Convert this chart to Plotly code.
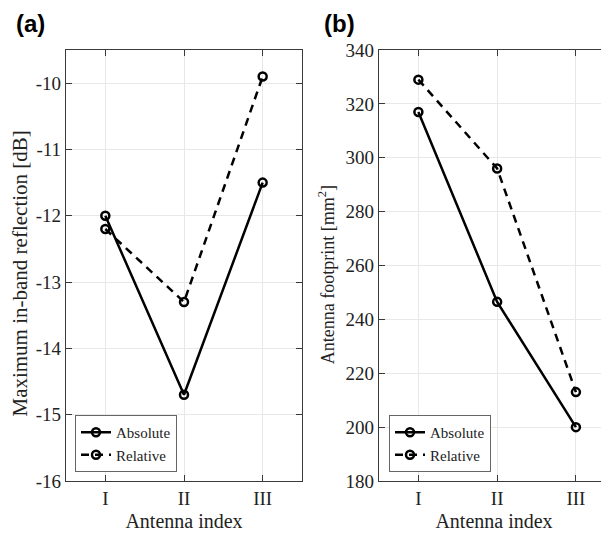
import plotly.graph_objects as go

antenna_labels = ["I", "II", "III"]
antenna_pos = [1, 2, 3]

refl_absolute = [-12.0, -14.7, -11.5]
refl_relative = [-12.2, -13.3, -9.9]

foot_absolute = [317, 246.5, 200]
foot_relative = [329, 296, 213]

refl_ticks = [-16, -15, -14, -13, -12, -11, -10]
refl_ticktext = ["-16", "-15", "-14", "-13", "-12", "-11", "-10"]
foot_ticks = [180, 200, 220, 240, 260, 280, 300, 320, 340]

# page has an 8px body margin, so the figure is 8px smaller and shifted
OFF = 8
W, H = 609 - OFF, 533 - OFF
serif = "Liberation Serif, Times New Roman, serif"
TOP, BOT = 50 - OFF, 481 - OFF
PH = BOT - TOP

def px(x):
    return (x - OFF) / W

def py(y):
    return (BOT - (y - OFF)) / PH

fig = go.Figure()

def add_pair(xaxis, yaxis, legend, ya, yr):
    fig.add_trace(go.Scatter(
        x=antenna_pos, y=ya, name="Absolute", mode="lines+markers",
        xaxis=xaxis, yaxis=yaxis, legend=legend,
        line=dict(color="black", width=2.5),
        marker=dict(symbol="circle-open", size=8, color="black", line=dict(width=2.5)),
    ))
    fig.add_trace(go.Scatter(
        x=antenna_pos, y=yr, name="Relative", mode="lines+markers",
        xaxis=xaxis, yaxis=yaxis, legend=legend,
        line=dict(color="black", width=2.5, dash="8px,6px"),
        marker=dict(symbol="circle-open", size=8, color="black", line=dict(width=2.5)),
    ))

add_pair("x", "y", "legend", refl_absolute, refl_relative)
add_pair("x2", "y2", "legend2", foot_absolute, foot_relative)

axis_common = dict(
    showgrid=True, gridcolor="#e8e8e8", gridwidth=1,
    showline=True, linecolor="#3a3a3a", linewidth=1.2,
    ticks="inside", ticklen=6, tickcolor="#3a3a3a",
    tickfont=dict(family=serif, size=19, color="#222"),
    zeroline=False, automargin=False,
)

legend_common = dict(
    xanchor="left", y=py(472), yanchor="bottom",
    bgcolor="white", bordercolor="#666", borderwidth=1,
    font=dict(family=serif, size=15, color="#222"), itemwidth=30,
    tracegroupgap=0,
)

fig.update_layout(
    width=W, height=H,
    margin=dict(l=0, r=0, t=TOP, b=H - BOT),
    paper_bgcolor="white", plot_bgcolor="white",
    showlegend=True,
    xaxis=dict(domain=[px(66), px(302)], range=[0.5, 3.5], tickvals=antenna_pos, ticktext=antenna_labels,
               mirror="ticks", anchor="y",
               title=dict(text="Antenna index", font=dict(family=serif, size=20, color="#222"), standoff=6),
               **axis_common),
    yaxis=dict(domain=[0, 1], range=[-16, -9.5], tickvals=refl_ticks, ticktext=refl_ticktext,
               mirror="ticks", anchor="x",
               title=dict(text="Maximum in-band reflection [dB]&nbsp;&nbsp;&nbsp;", font=dict(family=serif, size=21, color="#222"), standoff=8),
               **axis_common),
    xaxis2=dict(domain=[px(379), 1.0], range=[0.5, 3.42], tickvals=antenna_pos, ticktext=antenna_labels,
                mirror="ticks", anchor="y2",
                title=dict(text="Antenna index", font=dict(family=serif, size=20, color="#222"), standoff=6),
                **axis_common),
    yaxis2=dict(domain=[0, 1], range=[180, 340], tickvals=foot_ticks,
                mirror="ticks", anchor="x2",
                title=dict(text="Antenna footprint [mm<sup>2</sup>]&nbsp;&nbsp;&nbsp;&nbsp;", font=dict(family=serif, size=18, color="#222"), standoff=6),
                **axis_common),
    legend=dict(x=px(75), **legend_common),
    legend2=dict(x=px(389), **legend_common),
    annotations=[
        dict(text="<b>(a)</b>", x=px(14), y=py(24), xref="paper", yref="paper",
             xanchor="left", yanchor="middle", showarrow=False,
             font=dict(family="Liberation Sans, Arial, sans-serif", size=24, color="black")),
        dict(text="<b>(b)</b>", x=px(322), y=py(24), xref="paper", yref="paper",
             xanchor="left", yanchor="middle", showarrow=False,
             font=dict(family="Liberation Sans, Arial, sans-serif", size=24, color="black")),
    ],
)

fig.write_html("out.html")
